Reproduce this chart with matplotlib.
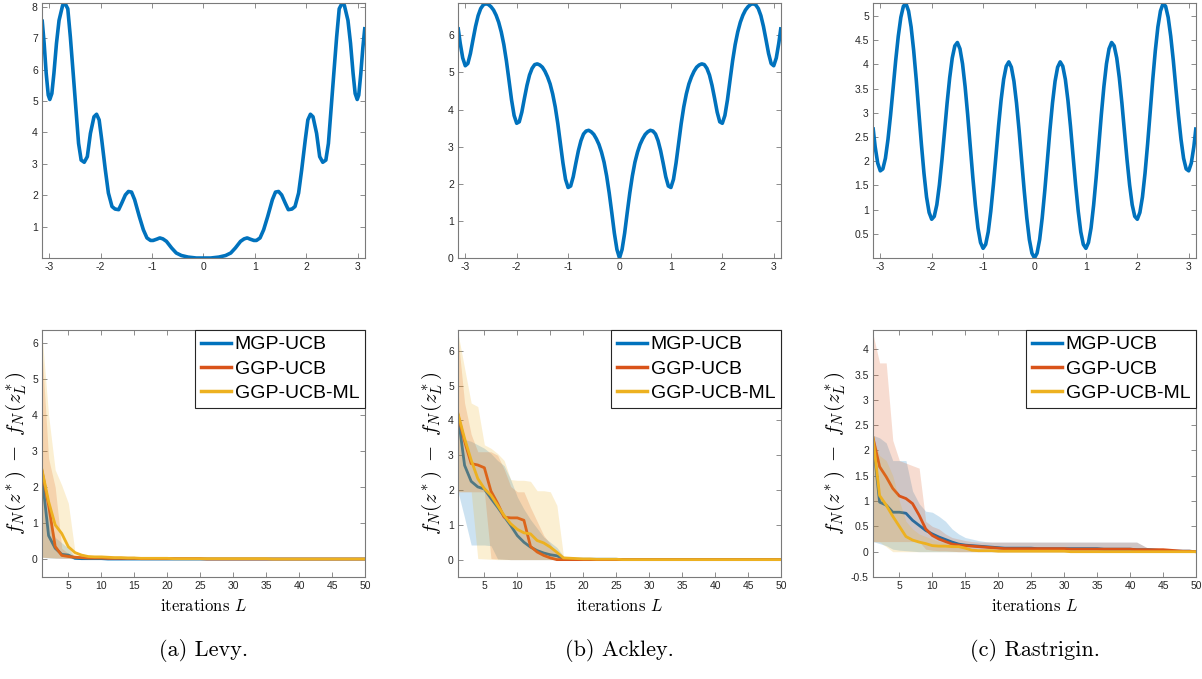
import numpy as np
import matplotlib
matplotlib.use('Agg')
import matplotlib.pyplot as plt
from matplotlib.ticker import FuncFormatter

plt.rcParams['mathtext.fontset'] = 'cm'
plt.rcParams['font.family'] = ['Liberation Sans', 'DejaVu Sans']
plt.rcParams['axes.unicode_minus'] = False

BLUE, ORANGE, YELLOW = '#0072BD', '#D95319', '#EDB120'
EDGE = '#7a7a7a'
TXT = '#262626'

# --- top row: test functions on [-pi, pi] ---
levy_x = [-3.14, -3.10, -3.06, -3.02, -2.99, -2.95, -2.91, -2.86, -2.81, -2.74,
          -2.69, -2.64, -2.59, -2.54, -2.48, -2.43, -2.38, -2.32, -2.26, -2.20,
          -2.13, -2.08, -2.03, -1.98, -1.91, -1.85, -1.78, -1.72, -1.65, -1.59,
          -1.52, -1.46, -1.40, -1.34, -1.25, -1.17, -1.10, -1.03, -0.98, -0.91,
          -0.85, -0.79, -0.72, -0.62, -0.53, -0.43, -0.30, -0.14, 0.0,
          0.14, 0.30, 0.43, 0.53, 0.62, 0.72, 0.79, 0.85, 0.91, 0.98,
          1.03, 1.10, 1.17, 1.25, 1.34, 1.40, 1.46, 1.52, 1.59, 1.65,
          1.72, 1.78, 1.85, 1.91, 1.98, 2.03, 2.08, 2.13, 2.20, 2.26,
          2.32, 2.38, 2.43, 2.48, 2.54, 2.59, 2.64, 2.69, 2.74, 2.81,
          2.86, 2.91, 2.95, 2.99, 3.02, 3.06, 3.10, 3.14]
levy_y = [7.60, 6.84, 5.88, 5.19, 5.05, 5.24, 5.88, 6.84, 7.57, 8.05,
          8.10, 7.94, 7.04, 5.99, 4.71, 3.65, 3.12, 3.05, 3.23, 3.97,
          4.50, 4.58, 4.40, 3.77, 2.81, 2.07, 1.64, 1.56, 1.54, 1.75,
          2.01, 2.12, 2.10, 1.86, 1.33, 0.90, 0.64, 0.56, 0.56, 0.60,
          0.64, 0.61, 0.53, 0.32, 0.16, 0.08, 0.03, 0.00, 0.00,
          0.00, 0.03, 0.08, 0.16, 0.32, 0.53, 0.61, 0.64, 0.60, 0.56,
          0.56, 0.64, 0.90, 1.33, 1.86, 2.10, 2.12, 2.01, 1.75, 1.54,
          1.56, 1.64, 2.07, 2.81, 3.77, 4.40, 4.58, 4.50, 3.97, 3.23,
          3.05, 3.12, 3.65, 4.71, 5.99, 7.04, 7.94, 8.10, 8.05, 7.57,
          6.84, 5.88, 5.24, 5.05, 5.19, 5.88, 6.70, 7.36]

# Ackley / Rastrigin are symmetric: values for x = 0, 0.05, ..., 3.10, pi
half_x = list(np.round(np.arange(0, 3.11, 0.05), 2)) + [np.pi]
ackley_half = [0.00, 0.23, 0.67, 1.22, 1.75, 2.21, 2.58, 2.85, 3.06, 3.21,
               3.33, 3.40, 3.44, 3.42, 3.34, 3.16, 2.89, 2.55, 2.19, 1.94,
               1.90, 2.12, 2.56, 3.09, 3.62, 4.07, 4.42, 4.69, 4.88, 5.03,
               5.14, 5.20, 5.23, 5.21, 5.11, 4.93, 4.65, 4.30, 3.93, 3.67,
               3.63, 3.84, 4.26, 4.79, 5.31, 5.75, 6.09, 6.35, 6.54, 6.68,
               6.77, 6.83, 6.85, 6.82, 6.72, 6.53, 6.24, 5.88, 5.51, 5.24,
               5.18, 5.39, 5.80, 6.22]
rastrigin_half = [0.00, 0.10, 0.38, 0.83, 1.39, 2.01, 2.64, 3.20, 3.65, 3.94,
                  4.05, 3.96, 3.69, 3.26, 2.72, 2.11, 1.51, 0.97, 0.54, 0.28,
                  0.20, 0.32, 0.62, 1.09, 1.67, 2.31, 2.96, 3.54, 4.01, 4.32,
                  4.45, 4.38, 4.13, 3.72, 3.20, 2.61, 2.03, 1.51, 1.10, 0.86,
                  0.80, 0.94, 1.26, 1.75, 2.35, 3.01, 3.68, 4.28, 4.77, 5.10,
                  5.25, 5.20, 4.97, 4.58, 4.08, 3.51, 2.95, 2.45, 2.06, 1.84,
                  1.80, 1.96, 2.30, 2.70]

# --- bottom row: regret per iteration (mean, lower, upper) ---
lv_mgp = [2.30, 0.65, 0.30, 0.13, 0.11, 0.02, 0.01, 0.01, 0.01, 0.01] + [0.0] * 40
lv_mgp_lo = [0.05, 0.03, 0.02, 0.02, 0.02] + [0.0] * 45
lv_mgp_hi = [2.50, 1.30, 0.60, 0.45, 0.30, 0.06, 0.04, 0.03, 0.02, 0.02] + [0.01] * 10 + [0.0] * 30
lv_ggp = [2.45, 1.50, 0.35, 0.10, 0.07, 0.05, 0.04, 0.03, 0.03, 0.03,
          0.02, 0.02, 0.02, 0.02, 0.02] + [0.01] * 10 + [0.0] * 25
lv_ggp_lo = [0.05, 0.04, 0.03, 0.02, 0.02, 0.01] + [0.0] * 44
lv_ggp_hi = [5.80, 2.80, 2.00, 0.30, 0.15, 0.10, 0.08, 0.07, 0.06, 0.05,
             0.05, 0.04, 0.04, 0.03, 0.03] + [0.02] * 10 + [0.01] * 25
lv_ml = [2.48, 1.60, 0.95, 0.71, 0.34, 0.18, 0.11, 0.07, 0.06, 0.06,
         0.05, 0.04, 0.04, 0.03, 0.03, 0.02, 0.02, 0.02, 0.02, 0.02] + [0.01] * 15 + [0.0] * 15
lv_ml_lo = [0.05, 0.04, 0.03, 0.03, 0.02, 0.02, 0.01] + [0.0] * 43
lv_ml_hi = [6.25, 4.00, 2.48, 2.05, 1.55, 0.20, 0.15, 0.10, 0.09, 0.08,
            0.07, 0.06, 0.05, 0.05, 0.04] + [0.03] * 10 + [0.02] * 25

ak_mgp = [4.15, 2.71, 2.25, 2.09, 2.03, 1.76, 1.51, 1.24, 0.98, 0.69,
          0.50, 0.36, 0.26, 0.19, 0.14, 0.11, 0.03, 0.02, 0.01, 0.01,
          0.01, 0.01, 0.01, 0.01, 0.01] + [0.0] * 25
ak_mgp_lo = [1.95, 1.20, 0.42, 0.42, 0.42, 0.40, 0.02, 0.01] + [0.0] * 42
ak_mgp_hi = [4.20, 3.45, 3.40, 3.30, 3.20, 3.05, 2.85, 2.70, 2.30, 1.80,
             1.45, 1.15, 0.90, 0.65, 0.50, 0.35, 0.10, 0.05, 0.03, 0.02,
             0.02, 0.02, 0.01, 0.01, 0.01] + [0.0] * 25
ak_ggp = [4.15, 3.40, 2.76, 2.72, 2.64, 1.97, 1.62, 1.22, 1.20, 1.20,
          1.13, 0.38, 0.22, 0.12, 0.05] + [0.0] * 35
ak_ggp_lo = [1.95] * 5 + [0.03, 0.02, 0.01] + [0.0] * 42
ak_ggp_hi = [6.40, 4.50, 3.60, 3.10, 3.10, 3.10, 3.00, 2.60, 2.10, 1.95,
             1.95, 1.50, 1.10, 0.70, 0.45, 0.15, 0.05, 0.03, 0.02, 0.02] + [0.01] * 5 + [0.0] * 25
ak_ml = [4.20, 3.48, 2.86, 2.33, 2.04, 1.85, 1.56, 1.27, 1.03, 0.87,
         0.77, 0.74, 0.55, 0.48, 0.36, 0.21, 0.05, 0.04, 0.03, 0.02,
         0.02, 0.01, 0.01, 0.01, 0.01] + [0.0] * 25
ak_ml_lo = [1.95, 1.95, 1.95, 0.03, 0.02, 0.01] + [0.0] * 44
ak_ml_hi = [6.50, 5.50, 4.50, 4.40, 3.30, 3.20, 3.05, 2.85, 2.30, 2.28,
            2.28, 2.25, 1.98, 1.98, 1.95, 1.56, 0.10, 0.06, 0.05, 0.04,
            0.03, 0.02, 0.02, 0.01, 0.01] + [0.0] * 25

rs_mgp = [2.20, 0.98, 0.92, 0.78, 0.78, 0.76, 0.62, 0.52, 0.42, 0.35,
          0.29, 0.24, 0.19, 0.15, 0.13, 0.12, 0.11, 0.10, 0.09, 0.08] + \
         [0.07] * 5 + [0.06] * 10 + [0.05] * 5 + [0.04] * 3 + [0.03, 0.02, 0.01, 0.01, 0.01, 0.01, 0.0]
rs_mgp_lo = [0.20, 0.16, 0.12, 0.05, 0.03, 0.02, 0.01] + [0.0] * 43
rs_mgp_hi = [2.30, 2.25, 2.15, 1.80, 1.80, 1.80, 1.20, 0.95, 0.80, 0.78,
             0.70, 0.60, 0.45, 0.35, 0.28, 0.25, 0.22, 0.20] + [0.19] * 23 + \
            [0.12, 0.05, 0.02, 0.01, 0.01, 0.01, 0.01, 0.01, 0.01]
rs_ggp = [2.25, 1.68, 1.48, 1.25, 1.10, 1.05, 0.95, 0.72, 0.45, 0.32,
          0.25, 0.20, 0.15, 0.13, 0.12, 0.11, 0.10, 0.09, 0.08, 0.07] + \
         [0.06] * 10 + [0.05] * 10 + [0.04] * 5 + [0.03, 0.02, 0.01, 0.01, 0.0]
rs_ggp_lo = [0.20] * 8 + [0.05, 0.03, 0.02, 0.02, 0.01] + [0.0] * 37
rs_ggp_hi = [4.30, 3.73, 3.73, 2.20, 1.80, 1.75, 1.70, 1.65, 0.60, 0.50,
             0.45, 0.35, 0.28, 0.25, 0.22, 0.20] + [0.19] * 25 + \
            [0.12, 0.05, 0.03, 0.02, 0.02, 0.02, 0.01, 0.01, 0.01]
rs_ml = [2.25, 1.11, 0.92, 0.70, 0.50, 0.30, 0.23, 0.19, 0.16, 0.12,
         0.11, 0.11, 0.10, 0.10, 0.07, 0.03, 0.02, 0.02, 0.02, 0.01] + [0.01] * 10 + [0.0] * 20
rs_ml_lo = [0.20, 0.19, 0.10] + [0.0] * 47
rs_ml_hi = [2.25, 1.90, 1.80, 1.50, 1.00, 0.60, 0.45, 0.35, 0.30, 0.25,
            0.20, 0.18, 0.15, 0.12, 0.08, 0.05, 0.04, 0.03, 0.02, 0.02] + [0.01] * 10 + [0.0] * 20

names = ['MGP-UCB', 'GGP-UCB', 'GGP-UCB-ML']
captions = ['(a) Levy.', '(b) Ackley.', '(c) Rastrigin.']


def style(ax):
    for s in ax.spines.values():
        s.set_color(EDGE)
        s.set_linewidth(0.8)
    ax.tick_params(direction='in', top=True, right=True, length=3.5, width=0.6,
                   color=EDGE, labelsize=7.5, labelcolor=TXT, pad=3)
    ax.yaxis.set_major_formatter(FuncFormatter(lambda v, p: f'{v:g}'))


def mirror(half):
    half = np.asarray(half)
    return np.concatenate([half[::-1], half[1:]])


def top_plot(ax, x, y, yticks):
    ax.plot(x, y, color=BLUE, lw=2.6, solid_capstyle='butt')
    ax.set_xlim(-np.pi, np.pi)
    ax.set_ylim(0, max(y) * 1.003)
    ax.set_xticks(range(-3, 4))
    ax.set_yticks(yticks)
    style(ax)


def bottom_plot(ax, series, ylim, yticks):
    it = np.arange(1, 51)
    # line then its band, same zorder -> later bands tint earlier lines
    for (mean, lo, hi), c, name in zip(series, [BLUE, ORANGE, YELLOW], names):
        ax.plot(it, mean, color=c, lw=2.0, label=name, zorder=2)
        ax.fill_between(it, lo, hi, color=c, alpha=0.2, lw=0, zorder=2)
    ax.set_xlim(1, 50)
    ax.set_ylim(*ylim)
    ax.set_xticks(range(5, 51, 5))
    ax.set_yticks(yticks)
    style(ax)
    ax.set_xlabel('iterations $L$', family='cmr10', fontsize=12, labelpad=5)
    ax.set_ylabel(r'$f_N(z^*)\ -\ f_N(z_L^*)$', fontsize=15, labelpad=3)
    leg = ax.legend(loc='upper right', borderaxespad=0, fontsize=14, fancybox=False,
                    framealpha=1, borderpad=0.3, labelspacing=0.35,
                    handlelength=1.55, handletextpad=0.2)
    leg.get_frame().set_edgecolor(TXT)
    leg.get_frame().set_linewidth(0.8)
    leg.set_zorder(5)
    for h in leg.get_lines():
        h.set_linewidth(2.5)


fig = plt.figure(figsize=(12.02, 6.79), dpi=100)
lefts = [42 / 1202, 458 / 1202, 873 / 1202]
w = 323 / 1202

sym_x = mirror(half_x) * np.r_[-np.ones(63), np.ones(64)]
axt = [fig.add_axes([l, 0.620, w, 0.3756]) for l in lefts]
top_plot(axt[0], levy_x, levy_y, range(1, 9))
top_plot(axt[1], sym_x, mirror(ackley_half), range(0, 7))
top_plot(axt[2], sym_x, mirror(rastrigin_half), np.arange(0.5, 5.01, 0.5))

axb = [fig.add_axes([l, 0.1502, w, 0.3638]) for l in lefts]
bottom_plot(axb[0], [(lv_mgp, lv_mgp_lo, lv_mgp_hi), (lv_ggp, lv_ggp_lo, lv_ggp_hi),
                     (lv_ml, lv_ml_lo, lv_ml_hi)], (-0.5, 6.37), range(0, 7))
bottom_plot(axb[1], [(ak_mgp, ak_mgp_lo, ak_mgp_hi), (ak_ggp, ak_ggp_lo, ak_ggp_hi),
                     (ak_ml, ak_ml_lo, ak_ml_hi)], (-0.5, 6.6), range(0, 7))
bottom_plot(axb[2], [(rs_mgp, rs_mgp_lo, rs_mgp_hi), (rs_ggp, rs_ggp_lo, rs_ggp_hi),
                     (rs_ml, rs_ml_lo, rs_ml_hi)], (-0.5, 4.38), np.arange(-0.5, 4.01, 0.5))

for l, cap in zip(lefts, captions):
    fig.text(l + w / 2, 1 - 650 / 679, cap, family='cmr10', fontsize=16, ha='center', va='center')

fig.savefig('out.png', dpi=100)
